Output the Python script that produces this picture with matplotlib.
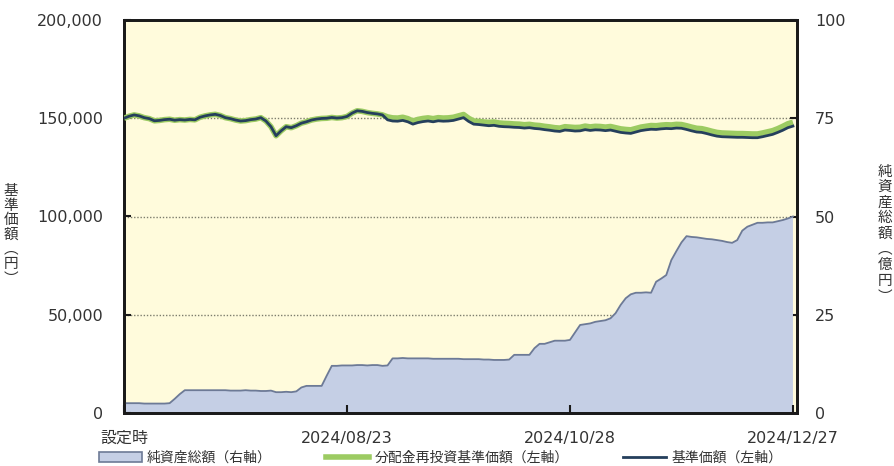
import matplotlib
matplotlib.use("Agg")
import matplotlib.pyplot as plt
from matplotlib.patches import Patch
from matplotlib.lines import Line2D

plt.rcParams['font.family'] = ['DejaVu Sans', 'Noto Sans CJK JP']

# ---- data (index = business day since inception) ----
tick_labels = ['設定時', '2024/08/23', '2024/10/28', '2024/12/27']
tick_index = [0, 44, 88, 132]

nav = [150000, 151000, 151700, 151200, 150300, 149800, 148700, 148900, 149300, 149500,
       149000, 149300, 149100, 149400, 149200, 150500, 151200, 151700, 152000, 151400,
       150300, 149800, 149100, 148600, 148800, 149300, 149600, 150300, 148600, 145700,
       141100, 143600, 145700, 145200, 146200, 147500, 148200, 149100, 149600, 149900,
       150000, 150400, 150100, 150300, 150900, 152600, 153800, 153500, 152900, 152500,
       152200, 151700, 149200, 148600, 148500, 148900, 148200, 147000, 147800, 148300,
       148600, 148200, 148700, 148500, 148600, 148900, 149600, 150300, 148400, 147000,
       146800, 146500, 146200, 146400, 145900, 145700, 145600, 145400, 145300, 145000,
       145200, 144800, 144600, 144200, 143900, 143500, 143300, 144000, 143800, 143500,
       143600, 144200, 143800, 144100, 144000, 143700, 144000, 143400, 142800, 142500,
       142300, 143000, 143700, 144100, 144400, 144300, 144600, 144800, 144700, 145000,
       144900, 144300, 143600, 143000, 142800, 142200, 141500, 140900, 140600, 140500,
       140400, 140300, 140300, 140200, 140100, 140100, 140600, 141200, 141800, 142800,
       143900, 145200, 146000]

nav_reinvest = [150000, 151000, 151700, 151200, 150300, 149800, 148700, 148900, 149300, 149500,
       149000, 149300, 149100, 149400, 149200, 150500, 151200, 151700, 152000, 151400,
       150300, 149800, 149100, 148600, 148800, 149300, 149600, 150300, 148600, 145700,
       141100, 143600, 145700, 145200, 146200, 147500, 148200, 149100, 149600, 149900,
       150000, 150400, 150100, 150300, 150900, 152600, 153800, 153500, 152900, 152500,
       152200, 151700, 150700, 150200, 150100, 150500, 149800, 148600, 149400, 149900,
       150200, 149800, 150300, 150100, 150200, 150500, 151200, 151900, 150000, 148600,
       148400, 148100, 147900, 148100, 147600, 147400, 147300, 147100, 147000, 146700,
       146900, 146500, 146300, 145900, 145600, 145200, 145000, 145700, 145500, 145300,
       145400, 146000, 145600, 145900, 145800, 145500, 145800, 145200, 144600, 144300,
       144100, 144800, 145500, 145900, 146300, 146200, 146500, 146700, 146600, 146900,
       146800, 146200, 145500, 144900, 144700, 144100, 143400, 142800, 142500, 142400,
       142300, 142200, 142200, 142100, 142000, 142000, 142500, 143100, 143700, 144700,
       145900, 147200, 148000]

net_assets = [2.5, 2.5, 2.5, 2.5, 2.4, 2.4, 2.4, 2.4, 2.4, 2.5,
              3.6, 4.8, 5.8,
              5.8, 5.8, 5.8, 5.8, 5.8, 5.8, 5.8, 5.8, 5.7, 5.7, 5.7, 5.8, 5.7, 5.7, 5.6, 5.6, 5.7,
              5.3, 5.3, 5.4, 5.3, 5.5,
              6.5, 6.9, 6.9, 6.9, 6.9,
              9.5, 12.0,
              12.0, 12.1, 12.1, 12.1, 12.2, 12.2, 12.1, 12.2, 12.2, 12.0, 12.1,
              13.9, 13.9, 14.0, 13.9, 13.9, 13.9, 13.9, 13.9, 13.8, 13.8, 13.8, 13.8, 13.8, 13.8,
              13.7, 13.7, 13.7, 13.7, 13.6, 13.6, 13.5, 13.5, 13.5, 13.6,
              14.8, 14.8, 14.8, 14.8,
              16.5, 17.6, 17.6, 18.0,
              18.4, 18.4, 18.4, 18.6,
              20.5, 22.4, 22.6, 22.8, 23.2, 23.4, 23.6, 24.1, 25.4, 27.5, 29.2, 30.2,
              30.6, 30.6, 30.7, 30.6,
              33.4, 34.2, 35.1, 38.9, 41.2, 43.4, 45.0,
              44.8, 44.7, 44.5, 44.3, 44.2, 44.0, 43.8, 43.5, 43.3, 44.0,
              46.4, 47.4, 47.9, 48.4, 48.4, 48.5, 48.5, 48.8, 49.1, 49.5, 50.0]

left_ticks = [0, 50000, 100000, 150000, 200000]
right_ticks = [0, 25, 50, 75, 100]

# ---- styling ----
bg = '#fffbdc'
area_fc = '#c5cfe5'
area_ec = '#6d7a96'
green = '#9ccb62'
navy = '#253f5c'

x = list(range(len(nav)))

fig = plt.figure(figsize=(8.94, 4.66), dpi=100)
ax = fig.add_axes([124/894, 53/466, 673/894, 393/466])
ax2 = ax.twinx()

ax.set_zorder(ax2.get_zorder() + 1)
ax.patch.set_visible(False)
ax2.patch.set_visible(True)
ax2.patch.set_facecolor(bg)

# area on right axis
ax2.fill_between(x, net_assets, 0, facecolor=area_fc, edgecolor='none', zorder=2)
ax2.plot(x, net_assets, color=area_ec, lw=1.3, zorder=3)
for v in right_ticks[1:-1]:
    ax2.axhline(v, color='#7d7d6d', lw=1.0, ls=(0, (1, 1.3)), zorder=1)
ax2.set_ylim(0, 100)
ax2.set_yticks(right_ticks)
ax2.set_yticklabels([str(v) for v in right_ticks])

# lines on left axis
ax.plot(x, nav_reinvest, color=green, lw=4.0, solid_capstyle='butt', zorder=3)
ax.plot(x, nav, color=navy, lw=2.0, zorder=4)
ax.set_ylim(0, 200000)
ax.set_yticks(left_ticks)
ax.set_yticklabels([f'{v:,}' for v in left_ticks])
ax.set_xlim(0, 132.8)
ax.set_xticks(tick_index)
ax.set_xticklabels(tick_labels)

for a in (ax, ax2):
    for s in a.spines.values():
        s.set_linewidth(2.0)
        s.set_color('#1a1a1a')
ax.tick_params(axis='y', direction='in', length=5, width=1.5, labelsize=11.5,
               colors='#1a1a1a', labelcolor='#333333', pad=15)
ax2.tick_params(axis='y', direction='in', length=5, width=1.5, labelsize=11.5,
                colors='#1a1a1a', labelcolor='#333333', pad=13)
ax.tick_params(axis='x', direction='in', length=6, width=1.5, labelsize=11.5,
               colors='#1a1a1a', labelcolor='#333333', pad=13)

# axis titles (vertical stacked)
fig.text(11/894, 1 - 235/466, '\n'.join('基準価額') + '\n︵\n円\n︶', ha='center', va='center',
         fontsize=10.5, linespacing=1.05, color='#333333', family=['Noto Sans CJK JP'])
fig.text(885/894, 1 - 234/466, '\n'.join('純資産総額') + '\n︵\n億\n円\n︶', ha='center', va='center',
         fontsize=10.5, linespacing=1.15, color='#333333', family=['Noto Sans CJK JP'])

handles = [Patch(facecolor=area_fc, edgecolor=area_ec, lw=1.2),
           Line2D([], [], color=green, lw=4),
           Line2D([], [], color=navy, lw=2)]
labels = ['純資産総額（右軸）', '分配金再投資基準価額（左軸）', '基準価額（左軸）']
fig.legend(handles, labels, loc='center left', bbox_to_anchor=(86/894, 8/466), ncol=3,
           frameon=False, handlelength=3.1, handleheight=0.8,
           columnspacing=3.9, handletextpad=0.4, labelcolor='#333333',
           prop={'family': ['Noto Sans CJK JP'], 'size': 10})

fig.savefig('out.png', dpi=100)
